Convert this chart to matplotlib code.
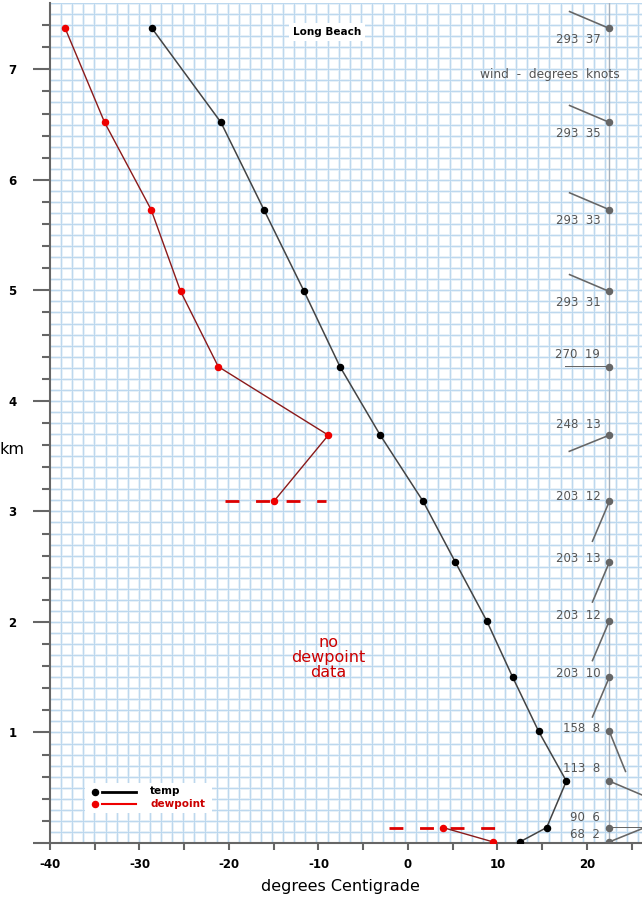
import numpy as np
import matplotlib
matplotlib.use("Agg")
import matplotlib.pyplot as plt
from matplotlib.patches import Rectangle

# heights of the sounding levels (km)
heights = [7.37, 6.52, 5.73, 4.99, 4.31, 3.69, 3.09, 2.54, 2.01, 1.50, 1.01, 0.56, 0.14, 0.01]
temp = [-28.6, -20.9, -16.1, -11.6, -7.6, -3.1, 1.7, 5.3, 8.8, 11.7, 14.6, 17.7, 15.5, 12.5]

# dewpoint: upper part and surface part (gap = no data)
dew_upper_h = [7.37, 6.52, 5.73, 4.99, 4.31, 3.69, 3.09]
dew_upper = [-38.3, -33.9, -28.7, -25.4, -21.2, -8.9, -15.0]
dew_low_h = [0.14, 0.01]
dew_low = [3.9, 9.5]

# wind direction (deg) and speed (knots) at each level
wind_dir = [293, 293, 293, 293, 270, 248, 203, 203, 203, 203, 158, 113, 90, 68]
wind_spd = [37, 35, 33, 31, 19, 13, 12, 13, 12, 10, 8, 8, 6, 2]
wind_x = 22.5

xticks = [-40, -30, -20, -10, 0, 10, 20]
yticks = [0, 1, 2, 3, 4, 5, 6, 7]
ylabels = ['', '1', '2', '3', '4', '5', '6', '7']

fig = plt.figure(figsize=(6.42, 9.0), dpi=100)
ax = fig.add_axes([50/642, 57/900, 592/642, 840/900])
ax.set_xlim(-40, 26.15)
ax.set_ylim(0, 7.6)

# graph paper background: pale band with a thin darker core
gxs = np.arange(-38.75, 26.5, 1.24)
gys = np.arange(0.1, 7.65, 0.1)
for gx in gxs:
    ax.axvline(gx, color='#e6f0f8', lw=2.0, zorder=0)
for gy in gys:
    ax.axhline(gy, color='#e6f0f8', lw=2.0, zorder=0)
for gx in gxs:
    ax.axvline(gx, color='#bcd8ee', lw=0.7, zorder=0.1)
for gy in gys:
    ax.axhline(gy, color='#bcd8ee', lw=0.7, zorder=0.1)
ax.axvline(wind_x, color='#a4b0bc', lw=1.0, zorder=0.5)

# temperature
ax.plot(temp, heights, color='#444444', lw=1.1, zorder=3)
ax.plot(temp, heights, 'o', color='black', ms=4.4, zorder=4)

# dewpoint
ax.plot(dew_upper, dew_upper_h, color='#8b1a1a', lw=1.0, zorder=3)
ax.plot(dew_low, dew_low_h, color='#8b1a1a', lw=1.0, zorder=3)
ax.plot(dew_upper + dew_low, dew_upper_h + dew_low_h, 'o', color='#ee0000', ms=4.4, zorder=4)
ax.plot([dew_upper[-1] - 5.5, dew_upper[-1] + 5.8], [dew_upper_h[-1]] * 2,
        color='#dd0000', lw=2, dashes=(5, 6), zorder=2)
ax.plot([dew_low[0] - 6.0, dew_low[0] + 7.4], [dew_low_h[0]] * 2,
        color='#dd0000', lw=2, dashes=(5, 6), zorder=2)

# wind sticks
rad = np.radians(wind_dir)
ax.quiver([wind_x] * len(heights), heights, np.sin(rad), np.cos(rad),
          angles='uv', scale_units='dots', scale=1/44, units='dots', width=1.6,
          headwidth=0, headlength=0, headaxislength=0, pivot='tail',
          color='#666666', zorder=3)
ax.plot([wind_x] * len(heights), heights, 'o', color='#666666', ms=4.4, zorder=4)
label_dy = [-11, -11, -11, -11, 12, 11, 5, 4, 5, 4, 3, 13, 10, 7]
for h, d, s, dy in zip(heights, wind_dir, wind_spd, label_dy):
    ax.annotate('%d  %d' % (d, s), xy=(wind_x, h), xytext=(-6.5, dy * 0.72),
                textcoords='offset points', ha='right', va='center',
                fontsize=8.5, color='#555555', zorder=5)

ax.text(15.9, 6.95, 'wind  -  degrees  knots', ha='center', va='center',
        fontsize=8.8, color='#555555')
ax.text(-9.05, 7.34, 'Long Beach', ha='center', va='center', fontsize=7.5,
        fontweight='bold', bbox=dict(facecolor='white', edgecolor='none', pad=3))
ax.text(-8.9, 1.68, 'no\ndewpoint\ndata', ha='center', va='center',
        fontsize=11.5, color='#cc0000', linespacing=1.0)

# legend
ax.add_patch(Rectangle((0.059, 0.036), 0.215, 0.036, transform=ax.transAxes,
                       facecolor='white', edgecolor='none', zorder=5))
ax.plot([0.076], [0.0607], 'o', color='black', ms=4.4, transform=ax.transAxes, zorder=6)
ax.plot([0.088, 0.145], [0.0607] * 2, color='black', lw=2, transform=ax.transAxes, zorder=6)
ax.plot([0.076], [0.0464], 'o', color='#ee0000', ms=4.4, transform=ax.transAxes, zorder=6)
ax.plot([0.088, 0.145], [0.0464] * 2, color='#ee0000', lw=1.5, transform=ax.transAxes, zorder=6)
ax.text(0.169, 0.0625, 'temp', transform=ax.transAxes, fontsize=7.5, fontweight='bold',
        va='center', zorder=6)
ax.text(0.169, 0.047, 'dewpoint', transform=ax.transAxes, fontsize=7.5, fontweight='bold',
        color='#cc0000', va='center', zorder=6)

# axes
for side in ['top', 'right']:
    ax.spines[side].set_visible(False)
for side in ['left', 'bottom']:
    ax.spines[side].set_color('#666666')
    ax.spines[side].set_linewidth(1.5)
ax.set_xticks(xticks)
ax.set_xticklabels([str(t) for t in xticks], fontweight='bold', fontsize=8.5)
ax.set_xticks(np.arange(-35, 26, 10), minor=True)
ax.set_yticks(yticks)
ax.set_yticklabels(ylabels, fontweight='bold', fontsize=8.5)
ax.set_yticks(np.arange(0.2, 7.6, 0.2), minor=True)
ax.tick_params(axis='x', which='both', length=5, width=1.5, color='#666666', pad=6)
ax.tick_params(axis='y', which='major', length=12, width=1.5, color='#666666', pad=12)
ax.tick_params(axis='y', which='minor', length=6, width=1.5, color='#666666')

fig.text(12/642, 1 - 450/900, 'km', ha='center', va='center', fontsize=11.5)
fig.text(340/642, 1 - 887/900, 'degrees Centigrade', ha='center', va='center', fontsize=11.5)

fig.savefig('out.png', dpi=100)
